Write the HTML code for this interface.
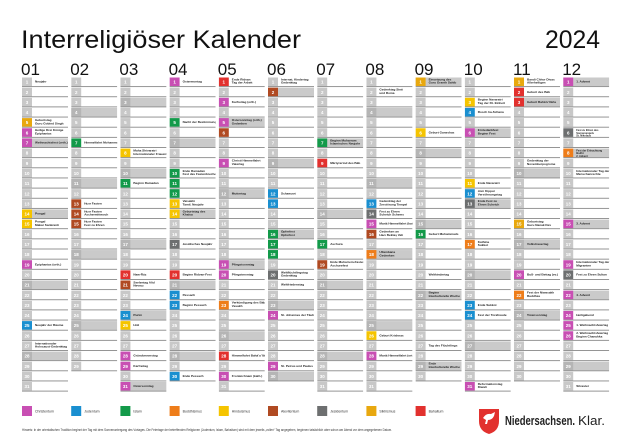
<!DOCTYPE html>
<html><head><meta charset="utf-8">
<style>
html,body{margin:0;padding:0;background:#fff;}
svg{display:block;font-family:"Liberation Sans",sans-serif;}
</style></head>
<body>
<svg id="s" width="623" height="445" viewBox="0 0 623 445" xmlns="http://www.w3.org/2000/svg">
<rect width="623" height="445" fill="#fff"/>
<text x="21" y="48" font-size="25" fill="#111" textLength="280" lengthAdjust="spacingAndGlyphs">Interreligiöser Kalender</text>
<text x="545" y="48" font-size="25" fill="#111" textLength="55" lengthAdjust="spacingAndGlyphs">2024</text>
</svg>
<script>
const s=document.getElementById('s');
const NS='http://www.w3.org/2000/svg';
function el(t,a,txt,p){const e=document.createElementNS(NS,t);for(const k in a)e.setAttribute(k,a[k]);if(txt!==undefined&&txt!==null)e.textContent=txt;(p||s).appendChild(e);return e;}
const C={c:'#c84fb3',j:'#1a8fd0',i:'#139a4a',b:'#ee7d1a',h:'#f5c400',a:'#b04a22',y:'#6d6f70',s:'#e8a80f',r:'#e2312e'};
const days=[31,29,31,30,31,30,31,31,30,31,30,31];
const E={
1:{1:[null,'Neujahr'],5:['s','Geburtstag|Guru Gobind Singh'],6:['c','Heilige Drei Könige|Epiphanias'],7:['c','Weihnachtsfest (orth.)'],14:['h','Pongal'],15:['h','Pongal|Makar Sankranti'],19:['c','Epiphanias (orth.)'],25:['j','Neujahr der Bäume'],27:[null,'Internationaler|Holocaust-Gedenktag']},
2:{7:['i','Himmelfahrt Mohammeds'],13:['a','Hızır Fasten'],14:['a','Hızır Fasten|Aschermittwoch'],15:['a','Hızır Fasten|Fest zu Ehren']},
3:{8:['h','Maha Shivaratri|Internationaler Frauentag'],11:['i','Beginn Ramadan'],20:['r','Naw-Rúz'],21:['a','Seelentag Alid|Nevruz'],24:['j','Purim'],25:['h','Holi'],28:['c','Gründonnerstag'],29:['c','Karfreitag'],31:['c','Ostersonntag']},
4:{1:['c','Ostermontag'],5:['i','Nacht der Bestimmung'],10:['i','Ende Ramadan|Fest des Fastenbrechens'],11:['i',''],12:['i',''],13:['h','Vaisakhi|Tamil. Neujahr'],14:['h','Geburtstag des|Khalsa'],17:['y','Jesidisches Neujahr'],20:['r','Beginn Ridvan-Fest'],22:['j','Pessach'],23:['j','Beginn Pessach'],30:['j','Ende Pessach']},
5:{1:['r','Ende Ridvan|Tag der Arbeit'],3:['c','Karfreitag (orth.)'],5:['c','Ostersonntag (orth.)|Gedenken'],6:['a',''],9:['c','Christi Himmelfahrt|Vatertag'],12:[null,'Muttertag'],19:['c','Pfingstsonntag'],20:['c','Pfingstmontag'],23:['b','Verkündigung des Báb|Vesakh'],28:['r','Himmelfahrt Bahá’u’lláh'],30:['c','Fronleichnam (kath.)']},
6:{1:[null,'Internat. Kindertag|Gedenktag'],2:['a',''],12:['j','Schawuot'],13:['j',''],16:['i','Opferfest|Opferfest'],17:['i',''],18:['i',''],20:['y','Weltflüchtlingstag|Gedenktag'],21:[null,'Weltfriedenstag'],24:['c','St. Johannes der Täufer'],29:['c','St. Petrus und Paulus']},
7:{7:['i','Beginn Muharram|Islamisches Neujahr'],9:['r','Märtyrertod des Báb'],17:['i','Aschura'],19:['a','Ende Muharrem-Fasten|Aschurefest']},
8:{2:[null,'Gedenktag Sinti|und Roma'],13:['j','Gedenktag der|Zerstörung Tempel'],14:['y','Fest zu Ehren|Scheich Schems'],15:['c','Mariä Himmelfahrt (kath.)'],16:['a','Gedenken an|Hacı Bektaş Veli'],18:['b','Ullambana|Gedenken'],26:['h','Geburt Krishnas'],28:['c','Mariä Himmelfahrt (orth.)']},
9:{1:['s','Einsetzung des|Guru Granth Sahib'],6:['h','Geburt Ganeshas'],16:['i','Geburt Muhammads'],20:[null,'Weltkindertag'],22:[null,'Beginn|Interkulturelle Woche'],27:[null,'Tag des Flüchtlings'],29:[null,'Ende|Interkulturelle Woche']},
10:{3:['h','Beginn Navaratri|Tag der Dt. Einheit'],4:['j','Rosch ha-Schana'],6:['c','Erntedankfest|Beginn Fest'],11:['h','Ende Navaratri'],12:['j','Jom Kippur|Versöhnungstag'],13:['y','Ende Fest zu|Ehren Scheich'],17:['b','Kathina|Sukkot'],23:['j','Ende Sukkot'],24:['j','Fest der Torafreude'],31:['c','Reformationstag|Diwali']},
11:{1:['s','Bandi Chhor Divas|Allerheiligen'],2:['r','Geburt des Báb'],3:['r','Geburt Bahá’u’lláhs'],9:[null,'Gedenktag der|Novemberpogrome'],15:['s','Geburtstag|Guru Nanak Dev'],17:[null,'Volkstrauertag'],20:['c','Buß- und Bettag (ev.)'],22:['b','Fest der Niwasakh|Buddhas'],24:[null,'Totensonntag']},
12:{1:['c','1. Advent'],6:['y','Fest zu Ehren des|Sonnenengels|St. Nikolaus'],8:['b','Fest der Erleuchtung|Bodhi|2. Advent'],10:[null,'Internationaler Tag der|Menschenrechte'],15:['c','3. Advent'],19:['c','Internationaler Tag der|Migranten'],20:['y','Fest zu Ehren Sultan'],22:['c','4. Advent'],24:['c','Heiligabend'],25:['c','1. Weihnachtsfeiertag'],26:['c','2. Weihnachtsfeiertag|Beginn Chanukka'],31:[null,'Silvester']}
};
const X0=22,DX=49.2,W=46,Y0=77,RH=10.15;
const defs=el('defs',{});
for(let m=1;m<=12;m++){
  const x=X0+(m-1)*DX;
  const cp=el('clipPath',{id:'c'+m},null,defs);
  el('rect',{x:x,y:55,width:W,height:345},null,cp);
  const g=el('g',{'clip-path':'url(#c'+m+')'});
  el('text',{x:x-1,y:75,'font-size':17,fill:'#111'},(m<10?'0':'')+m);
  for(let d=1;d<=days[m-1];d++){
    const y=Y0+(d-1)*RH;
    const dow=new Date(2024,m-1,d).getDay();
    const sun=dow===0;
    if(sun) el('rect',{x:x,y:y+0.5,width:W,height:RH-1.5,fill:'#cacaca'},null,g);
    const ev=(E[m]||{})[d];
    const col=ev&&ev[0]?C[ev[0]]:(sun?'#b5b5b5':'#c8c8c8');
    el('rect',{x:x,y:y+0.5,width:10,height:RH-1.5,fill:col},null,g);
    el('rect',{x:x,y:y+RH-1,width:W,height:0.9,fill:'#8a8a8a'},null,g);
    el('text',{x:x+5,y:y+6.6,'font-size':4.5,'text-anchor':'middle',fill:'#fff','font-weight':'bold'},d,g);
    if(ev&&ev[1]){
      const lines=ev[1].split('|');
      const n=lines.length;
      const fs=n>2?2.6:3.1;
      lines.forEach((t,k)=>{
        const yy=n===1?y+5.6:y+3.4+k*(n>2?2.7:3.3);
        el('text',{x:x+13,y:yy,'font-size':fs,fill:'#222','font-weight':'bold'},t,g);
      });
    }
  }
}
const L=[['c','Christentum'],['j','Judentum'],['i','Islam'],['b','Buddhismus'],['h','Hinduismus'],['a','Alevitentum'],['y','Jesidentum'],['s','Sikhismus'],['r','Bahaitum']];
L.forEach((l,k)=>{const x=X0+k*DX;el('rect',{x:x,y:406,width:10,height:10,fill:C[l[0]]});el('text',{x:x+13,y:412.5,'font-size':3.5,fill:'#333'},l[1]);});
el('text',{x:22,y:431,'font-size':3.3,fill:'#333',textLength:370,lengthAdjust:'spacingAndGlyphs'},'Hinweis: In der orientalischen Tradition beginnt der Tag mit dem Sonnenuntergang des Vortages. Die Feiertage der betreffenden Religionen (Judentum, Islam, Bahaitum) sind mit dem jeweils „vollen“ Tag angegeben, beginnen tatsächlich aber schon am Abend vor dem angegebenen Datum.');
el('path',{d:'M479 409 h20 v12 q0 10 -10 13 q-10 -3 -10 -13 z',fill:'#e2312e'});
el('path',{d:'M483 418 q3 -5 8 -4 l4 -2 l-1 4 q-2 4 -6 4 l-1 4 l-2 0 l1 -4 z',fill:'#fff'});
el('text',{x:505,y:425,'font-size':13,fill:'#222','font-weight':'bold',textLength:70,lengthAdjust:'spacingAndGlyphs'},'Niedersachsen.');
el('text',{x:578,y:425,'font-size':13,fill:'#222',textLength:27,lengthAdjust:'spacingAndGlyphs'},'Klar.');
</script>
</body></html>
